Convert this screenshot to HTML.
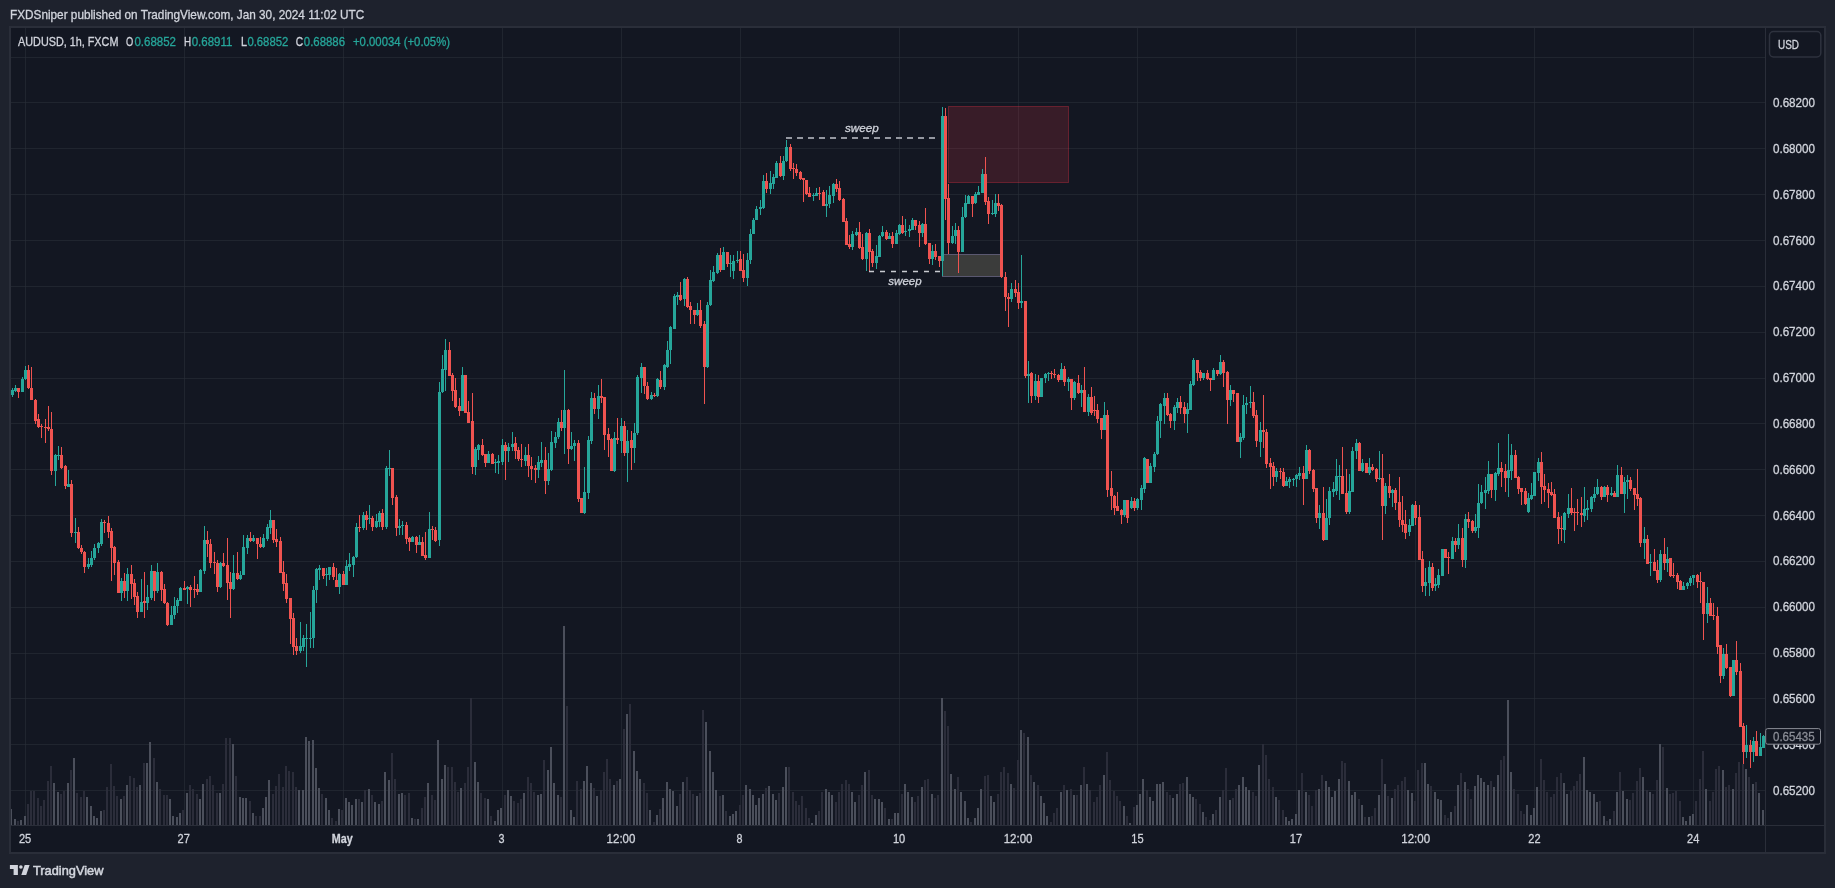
<!DOCTYPE html>
<html><head><meta charset="utf-8"><title>AUDUSD 1h chart</title><style>
html,body{margin:0;padding:0;background:#1e222d;width:1835px;height:888px;overflow:hidden}
svg{position:absolute;left:0;top:0;will-change:transform}
text{font-family:"Liberation Sans",sans-serif}
</style></head><body>
<svg width="1835" height="888" viewBox="0 0 1835 888">
<rect x="0" y="0" width="1835" height="888" fill="#1e222d"/>
<rect x="9" y="26" width="1817" height="828" fill="#2a2e39"/><rect x="11" y="28" width="1813" height="824" fill="#131722"/>
<path d="M11 57.5H1765M11 102.5H1765M11 148.5H1765M11 194.5H1765M11 240.5H1765M11 286.5H1765M11 332.5H1765M11 378.5H1765M11 423.5H1765M11 469.5H1765M11 515.5H1765M11 561.5H1765M11 607.5H1765M11 653.5H1765M11 698.5H1765M11 744.5H1765M11 790.5H1765M25.5 28V825M184.5 28V825M343.5 28V825M502.5 28V825M621.5 28V825M740.5 28V825M899.5 28V825M1018.5 28V825M1137.5 28V825M1296.5 28V825M1415.5 28V825M1534.5 28V825M1693.5 28V825" stroke="rgba(42,46,57,0.6)" stroke-width="1" fill="none"/>
<rect x="948.5" y="106.5" width="120" height="76" fill="rgba(242,54,69,0.17)" stroke="rgba(242,54,69,0.32)" stroke-width="1"/>
<rect x="942" y="254" width="58" height="23" fill="#3b3c3b"/>
<path d="M942 254.5H1000M942 276.5H1000" stroke="#5a5870" stroke-width="1"/>
<path d="M11 809H12V825H11zM14 819H16V825H14zM20 820H22V825H20zM24 816H26V825H24zM53 783H55V825H53zM57 792H59V825H57zM67 783H69V825H67zM73 758H75V825H73zM86 797H88V825H86zM90 806H92V825H90zM93 816H95V825H93zM96 818H98V825H96zM100 811H102V825H100zM120 799H122V825H120zM126 785H128V825H126zM139 785H141V825H139zM146 763H148V825H146zM149 742H151V825H149zM156 782H158V825H156zM169 799H171V825H169zM172 816H174V825H172zM176 817H178V825H176zM179 813H181V825H179zM186 793H188V825H186zM199 799H201V825H199zM202 784H204V825H202zM219 793H221V825H219zM232 744H234V825H232zM239 797H241V825H239zM242 798H244V825H242zM245 798H247V825H245zM252 813H254V825H252zM262 808H264V825H262zM265 797H267V825H265zM268 780H270V825H268zM298 790H300V825H298zM302 790H304V825H302zM305 737H307V825H305zM308 741H310V825H308zM312 740H314V825H312zM315 768H317V825H315zM318 788H320V825H318zM325 798H327V825H325zM328 810H330V825H328zM338 809H340V825H338zM345 798H347V825H345zM348 802H350V825H348zM351 805H353V825H351zM355 799H357V825H355zM361 802H363V825H361zM368 789H370V825H368zM374 802H376V825H374zM378 804H380V825H378zM384 772H386V825H384zM388 780H390V825H388zM398 794H400V825H398zM401 793H403V825H401zM411 818H413V825H411zM417 819H419V825H417zM427 783H429V825H427zM437 740H439V825H437zM441 779H443V825H441zM444 765H446V825H444zM460 788H462V825H460zM474 762H476V825H474zM477 782H479V825H477zM487 799H489V825H487zM494 821H496V825H494zM497 810H499V825H497zM500 808H502V825H500zM507 790H509V825H507zM510 796H512V825H510zM523 793H525V825H523zM537 795H539V825H537zM540 794H542V825H540zM547 770H549V825H547zM550 747H552V825H550zM553 783H555V825H553zM557 795H559V825H557zM563 626H565V825H563zM570 810H572V825H570zM573 817H575V825H573zM583 781H585V825H583zM586 766H588V825H586zM590 783H592V825H590zM596 796H598V825H596zM613 785H615V825H613zM619 779H621V825H619zM626 714H628V825H626zM633 751H635V825H633zM636 771H638V825H636zM639 779H641V825H639zM649 810H651V825H649zM656 815H658V825H656zM662 798H664V825H662zM666 782H668V825H666zM669 789H671V825H669zM672 791H674V825H672zM676 806H678V825H676zM682 782H684V825H682zM696 796H698V825H696zM705 722H707V825H705zM709 751H711V825H709zM712 772H714V825H712zM715 790H717V825H715zM722 795H724V825H722zM729 816H731V825H729zM732 814H734V825H732zM735 811H737V825H735zM745 785H747V825H745zM749 789H751V825H749zM752 795H754V825H752zM755 805H757V825H755zM758 798H760V825H758zM762 794H764V825H762zM768 786H770V825H768zM772 794H774V825H772zM775 800H777V825H775zM782 787H784V825H782zM785 767H787V825H785zM811 823H813V825H811zM815 815H817V825H815zM825 789H827V825H825zM828 792H830V825H828zM831 795H833V825H831zM851 792H853V825H851zM854 802H856V825H854zM864 772H866V825H864zM874 799H876V825H874zM878 799H880V825H878zM881 802H883V825H881zM888 819H890V825H888zM894 813H896V825H894zM897 813H899V825H897zM904 784H906V825H904zM907 792H909V825H907zM911 797H913V825H911zM921 787H923V825H921zM931 794H933V825H931zM941 698H943V825H941zM950 774H952V825H950zM954 789H956V825H954zM960 792H962V825H960zM964 801H966V825H964zM967 818H969V825H967zM974 818H976V825H974zM977 808H979V825H977zM980 789H982V825H980zM990 796H992V825H990zM993 802H995V825H993zM1010 784H1012V825H1010zM1020 730H1022V825H1020zM1027 737H1029V825H1027zM1033 782H1035V825H1033zM1040 796H1042V825H1040zM1043 803H1045V825H1043zM1046 816H1048V825H1046zM1060 792H1062V825H1060zM1066 790H1068V825H1066zM1073 795H1075V825H1073zM1080 785H1082V825H1080zM1086 784H1088V825H1086zM1103 775H1105V825H1103zM1123 806H1125V825H1123zM1129 823H1131V825H1129zM1136 805H1138V825H1136zM1139 794H1141V825H1139zM1142 779H1144V825H1142zM1149 797H1151V825H1149zM1152 801H1154V825H1152zM1156 784H1158V825H1156zM1159 784H1161V825H1159zM1162 782H1164V825H1162zM1172 798H1174V825H1172zM1176 794H1178V825H1176zM1186 777H1188V825H1186zM1189 794H1191V825H1189zM1192 797H1194V825H1192zM1202 812H1204V825H1202zM1212 814H1214V825H1212zM1219 797H1221V825H1219zM1229 800H1231V825H1229zM1238 785H1240V825H1238zM1242 777H1244V825H1242zM1245 787H1247V825H1245zM1248 790H1250V825H1248zM1258 765H1260V825H1258zM1275 797H1277V825H1275zM1285 817H1287V825H1285zM1288 821H1290V825H1288zM1291 819H1293V825H1291zM1295 814H1297V825H1295zM1298 790H1300V825H1298zM1305 792H1307V825H1305zM1318 789H1320V825H1318zM1325 781H1327V825H1325zM1328 787H1330V825H1328zM1331 797H1333V825H1331zM1334 791H1336V825H1334zM1338 779H1340V825H1338zM1348 781H1350V825H1348zM1351 795H1353V825H1351zM1354 792H1356V825H1354zM1361 805H1363V825H1361zM1368 817H1370V825H1368zM1378 795H1380V825H1378zM1384 784H1386V825H1384zM1391 798H1393V825H1391zM1407 790H1409V825H1407zM1411 793H1413V825H1411zM1424 763H1426V825H1424zM1427 784H1429V825H1427zM1434 792H1436V825H1434zM1437 799H1439V825H1437zM1440 800H1442V825H1440zM1450 812H1452V825H1450zM1457 785H1459V825H1457zM1464 782H1466V825H1464zM1474 786H1476V825H1474zM1477 775H1479V825H1477zM1480 778H1482V825H1480zM1483 782H1485V825H1483zM1487 785H1489V825H1487zM1493 787H1495V825H1493zM1497 775H1499V825H1497zM1507 700H1509V825H1507zM1510 772H1512V825H1510zM1526 805H1528V825H1526zM1530 815H1532V825H1530zM1533 808H1535V825H1533zM1536 787H1538V825H1536zM1563 783H1565V825H1563zM1566 794H1568V825H1566zM1583 757H1585V825H1583zM1586 790H1588V825H1586zM1589 792H1591V825H1589zM1593 794H1595V825H1593zM1596 802H1598V825H1596zM1603 816H1605V825H1603zM1609 819H1611V825H1609zM1616 792H1618V825H1616zM1622 791H1624V825H1622zM1626 799H1628V825H1626zM1642 777H1644V825H1642zM1649 792H1651V825H1649zM1659 744H1661V825H1659zM1666 788H1668V825H1666zM1682 817H1684V825H1682zM1685 821H1687V825H1685zM1689 816H1691V825H1689zM1692 814H1694V825H1692zM1705 789H1707V825H1705zM1722 770H1724V825H1722zM1732 789H1734V825H1732zM1745 769H1747V825H1745zM1752 784H1754V825H1752zM1758 793H1760V825H1758zM1762 810H1764V825H1762z" fill="#4b4f5b" shape-rendering="crispEdges"/>
<path d="M17 821H19V825H17zM27 804H29V825H27zM30 791H32V825H30zM33 791H35V825H33zM37 798H39V825H37zM40 806H42V825H40zM43 800H45V825H43zM47 781H49V825H47zM50 766H52V825H50zM60 794H62V825H60zM63 791H65V825H63zM70 770H72V825H70zM76 793H78V825H76zM80 797H82V825H80zM83 791H85V825H83zM103 810H105V825H103zM106 787H108V825H106zM110 764H112V825H110zM113 786H115V825H113zM116 796H118V825H116zM123 796H125V825H123zM129 776H131V825H129zM133 778H135V825H133zM136 787H138V825H136zM143 763H145V825H143zM153 758H155V825H153zM159 789H161V825H159zM163 795H165V825H163zM166 795H168V825H166zM182 810H184V825H182zM189 785H191V825H189zM192 789H194V825H192zM196 794H198V825H196zM206 779H208V825H206zM209 776H211V825H209zM212 785H214V825H212zM216 793H218V825H216zM222 784H224V825H222zM225 738H227V825H225zM229 738H231V825H229zM235 776H237V825H235zM249 801H251V825H249zM255 816H257V825H255zM259 816H261V825H259zM272 794H274V825H272zM275 786H277V825H275zM278 774H280V825H278zM282 787H284V825H282zM285 766H287V825H285zM288 771H290V825H288zM292 772H294V825H292zM295 787H297V825H295zM321 794H323V825H321zM331 818H333V825H331zM335 821H337V825H335zM341 810H343V825H341zM358 799H360V825H358zM364 790H366V825H364zM371 795H373V825H371zM381 801H383V825H381zM391 753H393V825H391zM394 779H396V825H394zM404 795H406V825H404zM408 793H410V825H408zM414 819H416V825H414zM421 808H423V825H421zM424 797H426V825H424zM431 795H433V825H431zM434 800H436V825H434zM447 767H449V825H447zM451 767H453V825H451zM454 782H456V825H454zM457 792H459V825H457zM464 783H466V825H464zM467 767H469V825H467zM470 698H472V825H470zM480 793H482V825H480zM484 798H486V825H484zM490 816H492V825H490zM504 795H506V825H504zM513 801H515V825H513zM517 803H519V825H517zM520 799H522V825H520zM527 777H529V825H527zM530 783H532V825H530zM533 792H535V825H533zM543 760H545V825H543zM560 797H562V825H560zM566 706H568V825H566zM576 781H578V825H576zM580 789H582V825H580zM593 788H595V825H593zM600 790H602V825H600zM603 772H605V825H603zM606 759H608V825H606zM609 779H611V825H609zM616 781H618V825H616zM623 729H625V825H623zM629 704H631V825H629zM643 783H645V825H643zM646 793H648V825H646zM653 822H655V825H653zM659 809H661V825H659zM679 794H681V825H679zM686 777H688V825H686zM689 790H691V825H689zM692 794H694V825H692zM699 793H701V825H699zM702 710H704V825H702zM719 796H721V825H719zM725 811H727V825H725zM739 805H741V825H739zM742 795H744V825H742zM765 788H767V825H765zM778 793H780V825H778zM788 767H790V825H788zM792 792H794V825H792zM795 801H797V825H795zM798 805H800V825H798zM801 796H803V825H801zM805 808H807V825H805zM808 818H810V825H808zM818 811H820V825H818zM821 792H823V825H821zM835 802H837V825H835zM838 792H840V825H838zM841 784H843V825H841zM845 780H847V825H845zM848 784H850V825H848zM858 795H860V825H858zM861 785H863V825H861zM868 770H870V825H868zM871 795H873V825H871zM884 808H886V825H884zM891 819H893V825H891zM901 794H903V825H901zM914 802H916V825H914zM917 796H919V825H917zM924 780H926V825H924zM927 779H929V825H927zM934 798H936V825H934zM937 795H939V825H937zM944 711H946V825H944zM947 726H949V825H947zM957 777H959V825H957zM970 822H972V825H970zM984 776H986V825H984zM987 775H989V825H987zM997 794H999V825H997zM1000 772H1002V825H1000zM1003 767H1005V825H1003zM1007 773H1009V825H1007zM1013 788H1015V825H1013zM1017 760H1019V825H1017zM1023 733H1025V825H1023zM1030 775H1032V825H1030zM1037 785H1039V825H1037zM1050 822H1052V825H1050zM1053 813H1055V825H1053zM1056 808H1058V825H1056zM1063 785H1065V825H1063zM1070 789H1072V825H1070zM1076 795H1078V825H1076zM1083 767H1085V825H1083zM1089 790H1091V825H1089zM1093 802H1095V825H1093zM1096 797H1098V825H1096zM1099 785H1101V825H1099zM1106 752H1108V825H1106zM1109 780H1111V825H1109zM1113 791H1115V825H1113zM1116 796H1118V825H1116zM1119 801H1121V825H1119zM1126 816H1128V825H1126zM1133 807H1135V825H1133zM1146 790H1148V825H1146zM1166 792H1168V825H1166zM1169 795H1171V825H1169zM1179 784H1181V825H1179zM1182 783H1184V825H1182zM1195 799H1197V825H1195zM1199 804H1201V825H1199zM1205 817H1207V825H1205zM1209 820H1211V825H1209zM1215 810H1217V825H1215zM1222 790H1224V825H1222zM1225 768H1227V825H1225zM1232 798H1234V825H1232zM1235 789H1237V825H1235zM1252 792H1254V825H1252zM1255 796H1257V825H1255zM1262 744H1264V825H1262zM1265 755H1267V825H1265zM1268 779H1270V825H1268zM1272 787H1274V825H1272zM1278 800H1280V825H1278zM1282 810H1284V825H1282zM1301 773H1303V825H1301zM1308 795H1310V825H1308zM1311 806H1313V825H1311zM1315 790H1317V825H1315zM1321 775H1323V825H1321zM1341 761H1343V825H1341zM1344 763H1346V825H1344zM1358 799H1360V825H1358zM1364 817H1366V825H1364zM1371 816H1373V825H1371zM1374 808H1376V825H1374zM1381 759H1383V825H1381zM1387 796H1389V825H1387zM1394 789H1396V825H1394zM1397 785H1399V825H1397zM1401 781H1403V825H1401zM1404 777H1406V825H1404zM1414 801H1416V825H1414zM1417 770H1419V825H1417zM1421 763H1423V825H1421zM1430 786H1432V825H1430zM1444 815H1446V825H1444zM1447 818H1449V825H1447zM1454 806H1456V825H1454zM1460 773H1462V825H1460zM1467 789H1469V825H1467zM1470 799H1472V825H1470zM1490 781H1492V825H1490zM1500 760H1502V825H1500zM1503 756H1505V825H1503zM1513 789H1515V825H1513zM1517 794H1519V825H1517zM1520 811H1522V825H1520zM1523 814H1525V825H1523zM1540 759H1542V825H1540zM1543 780H1545V825H1543zM1546 792H1548V825H1546zM1550 797H1552V825H1550zM1553 794H1555V825H1553zM1556 777H1558V825H1556zM1560 773H1562V825H1560zM1570 791H1572V825H1570zM1573 786H1575V825H1573zM1576 781H1578V825H1576zM1579 774H1581V825H1579zM1599 801H1601V825H1599zM1606 821H1608V825H1606zM1613 811H1615V825H1613zM1619 772H1621V825H1619zM1629 800H1631V825H1629zM1632 793H1634V825H1632zM1636 781H1638V825H1636zM1639 768H1641V825H1639zM1646 790H1648V825H1646zM1652 794H1654V825H1652zM1656 780H1658V825H1656zM1662 747H1664V825H1662zM1669 794H1671V825H1669zM1672 793H1674V825H1672zM1675 791H1677V825H1675zM1679 801H1681V825H1679zM1695 801H1697V825H1695zM1699 779H1701V825H1699zM1702 751H1704V825H1702zM1709 801H1711V825H1709zM1712 792H1714V825H1712zM1715 769H1717V825H1715zM1718 766H1720V825H1718zM1725 787H1727V825H1725zM1728 785H1730V825H1728zM1735 773H1737V825H1735zM1738 762H1740V825H1738zM1742 764H1744V825H1742zM1748 777H1750V825H1748zM1755 782H1757V825H1755z" fill="#2b2d3a" shape-rendering="crispEdges"/>
<path d="M12 388h1v2h-1zM12 395h1v2h-1zM11 390H14V395H11zM15 385h1v3h-1zM15 391h1v1h-1zM14 388H17V391H14zM22 377h1v2h-1zM21 379H24V392H21zM25 366h1v4h-1zM25 379h1v1h-1zM24 370H27V379H24zM55 454h1v1h-1zM55 471h1v15h-1zM54 455H57V471H54zM58 446h1v9h-1zM58 456h1v4h-1zM57 455H60V456H57zM68 470h1v14h-1zM67 484H70V487H67zM75 518h1v14h-1zM75 533h1v10h-1zM74 532H77V533H74zM88 558h1v6h-1zM88 567h1v2h-1zM87 564H90V567H87zM91 551h1v7h-1zM91 565h1v2h-1zM90 558H93V565H90zM94 544h1v4h-1zM94 558h1v2h-1zM93 548H96V558H93zM98 542h1v1h-1zM98 548h1v5h-1zM97 543H100V548H97zM101 519h1v3h-1zM101 544h1v2h-1zM100 522H103V544H100zM121 578h1v3h-1zM121 593h1v8h-1zM120 581H123V593H120zM127 568h1v6h-1zM127 591h1v10h-1zM126 574H129V591H126zM141 579h1v23h-1zM140 602H143V612H140zM147 585h1v12h-1zM147 603h1v7h-1zM146 597H149V603H146zM151 565h1v6h-1zM151 598h1v2h-1zM150 571H153V598H150zM157 563h1v9h-1zM157 591h1v2h-1zM156 572H159V591H156zM171 606h1v9h-1zM170 615H173V625H170zM174 597h1v9h-1zM174 615h1v4h-1zM173 606H176V615H173zM177 598h1v2h-1zM177 606h1v7h-1zM176 600H179V606H176zM180 587h1v1h-1zM179 588H182V601H179zM187 586h1v1h-1zM187 589h1v15h-1zM186 587H189V589H186zM200 569h1v1h-1zM199 570H202V592H199zM204 526h1v14h-1zM204 571h1v3h-1zM203 540H206V571H203zM220 562h1v1h-1zM220 587h1v1h-1zM219 563H222V587H219zM233 555h1v18h-1zM233 589h1v1h-1zM232 573H235V589H232zM240 571h1v4h-1zM240 579h1v1h-1zM239 575H242V579H239zM243 535h1v12h-1zM242 547H245V575H242zM247 535h1v3h-1zM247 548h1v6h-1zM246 538H249V548H246zM253 535h1v3h-1zM253 541h1v1h-1zM252 538H255V541H252zM263 534h1v4h-1zM263 547h1v1h-1zM262 538H265V547H262zM267 524h1v3h-1zM267 539h1v2h-1zM266 527H269V539H266zM270 510h1v10h-1zM270 528h1v6h-1zM269 520H272V528H269zM300 622h1v24h-1zM300 651h1v2h-1zM299 646H302V651H299zM303 635h1v3h-1zM303 647h1v4h-1zM302 638H305V647H302zM306 624h1v14h-1zM306 639h1v28h-1zM305 638H308V639H305zM310 612h1v26h-1zM310 639h1v9h-1zM309 638H312V639H309zM313 586h1v4h-1zM313 638h1v10h-1zM312 590H315V638H312zM316 568h1v1h-1zM316 590h1v13h-1zM315 569H318V590H315zM319 565h1v3h-1zM319 570h1v10h-1zM318 568H321V570H318zM326 568h1v6h-1zM326 575h1v11h-1zM325 574H328V575H325zM329 575h1v5h-1zM328 567H331V575H328zM339 573h1v1h-1zM339 587h1v7h-1zM338 574H341V587H338zM346 560h1v6h-1zM345 566H348V585H345zM349 553h1v11h-1zM349 567h1v4h-1zM348 564H351V567H348zM353 556h1v1h-1zM353 565h1v12h-1zM352 557H355V565H352zM356 523h1v4h-1zM356 557h1v1h-1zM355 527H358V557H355zM363 512h1v3h-1zM363 528h1v2h-1zM362 515H365V528H362zM369 505h1v13h-1zM369 519h1v5h-1zM368 518H371V519H368zM376 514h1v7h-1zM376 527h1v1h-1zM375 521H378V527H375zM379 511h1v2h-1zM379 522h1v5h-1zM378 513H381V522H378zM386 466h1v2h-1zM386 527h1v2h-1zM385 468H388V527H385zM389 450h1v18h-1zM389 469h1v7h-1zM388 468H391V469H388zM399 519h1v7h-1zM399 528h1v7h-1zM398 526H401V528H398zM402 521h1v4h-1zM402 526h1v9h-1zM401 525H404V526H401zM412 536h1v1h-1zM411 537H414V542H411zM419 535h1v7h-1zM418 542H421V545H418zM429 512h1v17h-1zM428 529H431V558H428zM439 382h1v10h-1zM439 540h1v6h-1zM438 392H441V540H438zM442 355h1v14h-1zM442 392h1v1h-1zM441 369H444V392H441zM445 339h1v11h-1zM445 370h1v21h-1zM444 350H447V370H444zM462 367h1v8h-1zM461 375H464V411H461zM475 447h1v2h-1zM475 467h1v8h-1zM474 449H477V467H474zM478 444h1v1h-1zM478 450h1v10h-1zM477 445H480V450H477zM488 451h1v3h-1zM487 454H490V463H487zM495 459h1v3h-1zM495 463h1v10h-1zM494 462H497V463H494zM498 455h1v6h-1zM498 463h1v11h-1zM497 461H500V463H497zM502 439h1v6h-1zM502 462h1v3h-1zM501 445H504V462H501zM508 443h1v4h-1zM508 451h1v11h-1zM507 447H510V451H507zM512 432h1v12h-1zM512 447h1v4h-1zM511 444H514V447H511zM525 447h1v8h-1zM525 461h1v5h-1zM524 455H527V461H524zM538 456h1v6h-1zM538 470h1v8h-1zM537 462H540V470H537zM541 442h1v18h-1zM541 463h1v4h-1zM540 460H543V463H540zM548 453h1v16h-1zM548 481h1v4h-1zM547 469H550V481H547zM551 431h1v11h-1zM551 470h1v1h-1zM550 442H553V470H550zM555 432h1v5h-1zM555 443h1v5h-1zM554 437H557V443H554zM558 418h1v4h-1zM558 437h1v2h-1zM557 422H560V437H557zM564 370h1v40h-1zM564 428h1v26h-1zM563 410H566V428H563zM571 432h1v14h-1zM571 449h1v1h-1zM570 446H573V449H570zM574 440h1v3h-1zM574 446h1v15h-1zM573 443H576V446H573zM584 467h1v25h-1zM584 513h1v1h-1zM583 492H586V513H583zM588 436h1v4h-1zM588 493h1v6h-1zM587 440H590V493H587zM591 392h1v6h-1zM591 441h1v3h-1zM590 398H593V441H590zM598 385h1v11h-1zM598 409h1v10h-1zM597 396H600V409H597zM614 432h1v6h-1zM614 471h1v1h-1zM613 438H616V471H613zM621 418h1v8h-1zM621 441h1v12h-1zM620 426H623V441H620zM627 430h1v11h-1zM627 453h1v29h-1zM626 441H629V453H626zM634 423h1v10h-1zM634 448h1v15h-1zM633 433H636V448H633zM637 375h1v2h-1zM637 433h1v2h-1zM636 377H639V433H636zM641 363h1v4h-1zM641 378h1v15h-1zM640 367H643V378H640zM651 392h1v3h-1zM651 399h1v1h-1zM650 395H653V399H650zM657 378h1v1h-1zM657 396h1v1h-1zM656 379H659V396H656zM664 364h1v1h-1zM664 387h1v3h-1zM663 365H666V387H663zM667 341h1v9h-1zM667 367h1v1h-1zM666 350H669V367H666zM670 326h1v1h-1zM670 350h1v14h-1zM669 327H672V350H669zM674 294h1v2h-1zM673 296H676V329H673zM677 292h1v3h-1zM677 297h1v8h-1zM676 295H679V297H676zM684 278h1v1h-1zM684 299h1v7h-1zM683 279H686V299H683zM697 303h1v7h-1zM697 315h1v1h-1zM696 310H699V315H696zM707 302h1v3h-1zM707 367h1v1h-1zM706 305H709V367H706zM710 270h1v10h-1zM710 305h1v1h-1zM709 280H712V305H709zM713 266h1v6h-1zM713 281h1v1h-1zM712 272H715V281H712zM717 253h1v2h-1zM717 273h1v1h-1zM716 255H719V273H716zM723 247h1v5h-1zM722 252H725V270H722zM730 255h1v8h-1zM730 264h1v13h-1zM729 263H732V264H729zM733 255h1v6h-1zM733 271h1v8h-1zM732 261H735V271H732zM737 251h1v9h-1zM737 261h1v2h-1zM736 260H739V261H736zM747 253h1v7h-1zM747 278h1v8h-1zM746 260H749V278H746zM750 229h1v5h-1zM750 260h1v4h-1zM749 234H752V260H749zM753 218h1v2h-1zM752 220H755V234H752zM756 206h1v3h-1zM755 209H758V220H755zM760 200h1v7h-1zM760 209h1v6h-1zM759 207H762V209H759zM763 175h1v6h-1zM763 208h1v1h-1zM762 181H765V208H762zM770 171h1v12h-1zM770 189h1v5h-1zM769 183H772V189H769zM773 174h1v3h-1zM773 184h1v5h-1zM772 177H775V184H772zM776 161h1v2h-1zM775 163H778V178H775zM783 156h1v5h-1zM783 176h1v4h-1zM782 161H785V176H782zM786 140h1v7h-1zM786 161h1v1h-1zM785 147H788V161H785zM813 193h1v2h-1zM813 196h1v5h-1zM812 195H815V196H812zM816 188h1v5h-1zM815 193H818V196H815zM826 190h1v14h-1zM826 206h1v11h-1zM825 204H828V206H825zM829 186h1v9h-1zM829 204h1v4h-1zM828 195H831V204H828zM833 183h1v1h-1zM833 196h1v7h-1zM832 184H835V196H832zM852 231h1v3h-1zM852 247h1v3h-1zM851 234H854V247H851zM856 228h1v4h-1zM856 235h1v1h-1zM855 232H858V235H855zM866 232h1v1h-1zM866 259h1v12h-1zM865 233H868V259H865zM876 245h1v11h-1zM876 263h1v6h-1zM875 256H878V263H875zM879 235h1v1h-1zM878 236H881V257H878zM882 226h1v6h-1zM882 236h1v1h-1zM881 232H884V236H881zM889 233h1v3h-1zM888 236H891V239H888zM896 230h1v3h-1zM895 233H898V244H895zM899 224h1v1h-1zM899 234h1v1h-1zM898 225H901V234H898zM905 219h1v12h-1zM905 232h1v4h-1zM904 231H907V232H904zM909 225h1v4h-1zM909 231h1v6h-1zM908 229H911V231H908zM912 218h1v2h-1zM911 220H914V230H911zM922 223h1v1h-1zM922 233h1v4h-1zM921 224H924V233H921zM932 245h1v6h-1zM932 259h1v6h-1zM931 251H934V259H931zM942 107h1v9h-1zM942 261h1v15h-1zM941 116H944V261H941zM952 226h1v10h-1zM952 243h1v1h-1zM951 236H954V243H951zM955 223h1v7h-1zM955 236h1v8h-1zM954 230H957V236H954zM962 207h1v10h-1zM961 217H964V252H961zM965 195h1v8h-1zM965 217h1v1h-1zM964 203H967V217H964zM968 195h1v1h-1zM967 196H970V204H967zM975 192h1v2h-1zM975 203h1v1h-1zM974 194H977V203H974zM978 186h1v6h-1zM977 192H980V195H977zM982 169h1v5h-1zM981 174H984V193H981zM992 200h1v13h-1zM992 214h1v1h-1zM991 213H994V214H991zM995 194h1v9h-1zM995 214h1v3h-1zM994 203H997V214H994zM1011 283h1v6h-1zM1011 299h1v3h-1zM1010 289H1013V299H1010zM1021 255h1v46h-1zM1021 303h1v5h-1zM1020 301H1023V303H1020zM1028 361h1v13h-1zM1028 376h1v27h-1zM1027 374H1030V376H1027zM1035 374h1v7h-1zM1035 396h1v4h-1zM1034 381H1037V396H1034zM1040 378H1043V397H1040zM1045 373h1v1h-1zM1045 378h1v5h-1zM1044 374H1047V378H1044zM1048 372h1v1h-1zM1048 374h1v7h-1zM1047 373H1050V374H1047zM1061 363h1v6h-1zM1060 369H1063V380H1060zM1068 377h1v2h-1zM1068 382h1v9h-1zM1067 379H1070V382H1067zM1074 381h1v1h-1zM1074 398h1v2h-1zM1073 382H1076V398H1073zM1081 385h1v5h-1zM1081 393h1v14h-1zM1080 390H1083V393H1080zM1088 394h1v3h-1zM1088 412h1v4h-1zM1087 397H1090V412H1087zM1104 402h1v13h-1zM1103 415H1106V430H1103zM1124 515h1v2h-1zM1123 500H1126V515H1123zM1131 497h1v4h-1zM1131 508h1v1h-1zM1130 501H1133V508H1130zM1137 498h1v1h-1zM1137 508h1v2h-1zM1136 499H1139V508H1136zM1141 485h1v3h-1zM1141 500h1v10h-1zM1140 488H1143V500H1140zM1144 457h1v1h-1zM1144 489h1v4h-1zM1143 458H1146V489H1143zM1150 463h1v3h-1zM1149 466H1152V483H1149zM1154 452h1v2h-1zM1154 467h1v5h-1zM1153 454H1156V467H1153zM1157 416h1v5h-1zM1157 454h1v1h-1zM1156 421H1159V454H1156zM1160 403h1v1h-1zM1160 421h1v17h-1zM1159 404H1162V421H1159zM1164 393h1v5h-1zM1164 406h1v18h-1zM1163 398H1166V406H1163zM1174 405h1v2h-1zM1174 421h1v9h-1zM1173 407H1176V421H1173zM1177 398h1v4h-1zM1177 408h1v5h-1zM1176 402H1179V408H1176zM1187 403h1v6h-1zM1187 414h1v19h-1zM1186 409H1189V414H1186zM1190 381h1v3h-1zM1189 384H1192V410H1189zM1193 358h1v2h-1zM1193 385h1v1h-1zM1192 360H1195V385H1192zM1203 378h1v2h-1zM1202 373H1205V378H1202zM1213 368h1v2h-1zM1212 370H1215V380H1212zM1220 355h1v7h-1zM1220 374h1v1h-1zM1219 362H1222V374H1219zM1230 385h1v5h-1zM1230 400h1v6h-1zM1229 390H1232V400H1229zM1240 433h1v4h-1zM1240 442h1v16h-1zM1239 437H1242V442H1239zM1243 395h1v10h-1zM1243 438h1v2h-1zM1242 405H1245V438H1242zM1246 397h1v6h-1zM1246 405h1v9h-1zM1245 403H1248V405H1245zM1250 386h1v16h-1zM1250 403h1v5h-1zM1249 402H1252V403H1249zM1260 422h1v8h-1zM1260 442h1v15h-1zM1259 430H1262V442H1259zM1276 468h1v3h-1zM1276 477h1v5h-1zM1275 471H1278V477H1275zM1286 477h1v4h-1zM1285 481H1288V486H1285zM1289 477h1v2h-1zM1289 482h1v6h-1zM1288 479H1291V482H1288zM1293 478h1v1h-1zM1293 480h1v6h-1zM1292 479H1295V480H1292zM1296 474h1v1h-1zM1296 479h1v8h-1zM1295 475H1298V479H1295zM1299 467h1v6h-1zM1299 476h1v4h-1zM1298 473H1301V476H1298zM1306 445h1v5h-1zM1305 450H1308V479H1305zM1319 505h1v8h-1zM1319 518h1v11h-1zM1318 513H1321V518H1318zM1326 499h1v19h-1zM1325 518H1328V540H1325zM1329 487h1v4h-1zM1329 518h1v7h-1zM1328 491H1331V518H1328zM1333 482h1v7h-1zM1333 492h1v5h-1zM1332 489H1335V492H1332zM1336 459h1v17h-1zM1336 491h1v4h-1zM1335 476H1338V491H1335zM1339 465h1v11h-1zM1339 477h1v23h-1zM1338 476H1341V477H1338zM1349 474h1v17h-1zM1349 512h1v2h-1zM1348 491H1351V512H1348zM1352 447h1v4h-1zM1351 451H1354V492H1351zM1356 439h1v4h-1zM1356 451h1v8h-1zM1355 443H1358V451H1355zM1362 459h1v4h-1zM1362 471h1v1h-1zM1361 463H1364V471H1361zM1369 458h1v9h-1zM1369 473h1v2h-1zM1368 467H1371V473H1368zM1379 451h1v27h-1zM1379 479h1v1h-1zM1378 478H1381V479H1378zM1385 483h1v3h-1zM1385 506h1v8h-1zM1384 486H1387V506H1384zM1392 489h1v1h-1zM1392 493h1v14h-1zM1391 490H1394V493H1391zM1409 519h1v6h-1zM1409 532h1v4h-1zM1408 525H1411V532H1408zM1412 504h1v1h-1zM1411 505H1414V526H1411zM1425 568h1v14h-1zM1425 586h1v10h-1zM1424 582H1427V586H1424zM1429 561h1v6h-1zM1429 583h1v13h-1zM1428 567H1431V583H1428zM1435 578h1v6h-1zM1435 586h1v5h-1zM1434 584H1437V586H1434zM1438 569h1v6h-1zM1438 585h1v3h-1zM1437 575H1440V585H1437zM1441 549H1444V576H1441zM1452 537h1v4h-1zM1451 541H1454V559H1451zM1458 524h1v14h-1zM1458 545h1v4h-1zM1457 538H1460V545H1457zM1465 514h1v5h-1zM1465 560h1v8h-1zM1464 519H1467V560H1464zM1475 514h1v13h-1zM1475 531h1v2h-1zM1474 527H1477V531H1474zM1478 484h1v19h-1zM1478 528h1v10h-1zM1477 503H1480V528H1477zM1481 485h1v7h-1zM1481 503h1v1h-1zM1480 492H1483V503H1480zM1485 477h1v13h-1zM1485 493h1v16h-1zM1484 490H1487V493H1484zM1488 461h1v13h-1zM1488 491h1v3h-1zM1487 474H1490V491H1487zM1495 472h1v1h-1zM1495 490h1v11h-1zM1494 473H1497V490H1494zM1498 443h1v25h-1zM1498 474h1v2h-1zM1497 468H1500V474H1497zM1508 434h1v36h-1zM1508 478h1v19h-1zM1507 470H1510V478H1507zM1511 444h1v11h-1zM1511 471h1v9h-1zM1510 455H1513V471H1510zM1528 493h1v5h-1zM1528 512h1v1h-1zM1527 498H1530V512H1527zM1531 483h1v12h-1zM1531 499h1v1h-1zM1530 495H1533V499H1530zM1533 472H1536V496H1533zM1538 458h1v4h-1zM1538 473h1v8h-1zM1537 462H1540V473H1537zM1564 512h1v1h-1zM1564 530h1v13h-1zM1563 513H1566V530H1563zM1568 494h1v14h-1zM1568 514h1v4h-1zM1567 508H1570V514H1567zM1584 487h1v22h-1zM1584 516h1v6h-1zM1583 509H1586V516H1583zM1587 500h1v8h-1zM1587 510h1v10h-1zM1586 508H1589V510H1586zM1591 496h1v1h-1zM1591 509h1v3h-1zM1590 497H1593V509H1590zM1594 487h1v7h-1zM1594 498h1v4h-1zM1593 494H1596V498H1593zM1597 479h1v8h-1zM1597 494h1v1h-1zM1596 487H1599V494H1596zM1604 486h1v1h-1zM1603 487H1606V497H1603zM1611 487h1v6h-1zM1611 495h1v1h-1zM1610 493H1613V495H1610zM1617 465h1v10h-1zM1616 475H1619V497H1616zM1624 477h1v5h-1zM1624 494h1v19h-1zM1623 482H1626V494H1623zM1627 475h1v5h-1zM1627 482h1v17h-1zM1626 480H1629V482H1626zM1644 527h1v12h-1zM1644 543h1v16h-1zM1643 539H1646V543H1643zM1650 554h1v8h-1zM1650 563h1v13h-1zM1649 562H1652V563H1649zM1660 550h1v4h-1zM1660 580h1v2h-1zM1659 554H1662V580H1659zM1667 547h1v12h-1zM1667 563h1v9h-1zM1666 559H1669V563H1666zM1683 582h1v4h-1zM1682 586H1685V590H1682zM1687 582h1v1h-1zM1687 586h1v3h-1zM1686 583H1689V586H1686zM1690 576h1v2h-1zM1690 583h1v3h-1zM1689 578H1692V583H1689zM1693 578h1v7h-1zM1692 575H1695V578H1692zM1707 587h1v16h-1zM1707 614h1v9h-1zM1706 603H1709V614H1706zM1723 648h1v6h-1zM1723 676h1v3h-1zM1722 654H1725V676H1722zM1732 660H1735V696H1732zM1746 725h1v20h-1zM1746 752h1v6h-1zM1745 745H1748V752H1745zM1753 737h1v4h-1zM1753 752h1v10h-1zM1752 741H1755V752H1752zM1760 733h1v14h-1zM1759 747H1762V756H1759zM1763 735h1v1h-1zM1762 736H1765V748H1762z" fill="#26a69a" shape-rendering="crispEdges"/>
<path d="M18 392h1v6h-1zM17 388H20V392H17zM28 365h1v5h-1zM28 388h1v1h-1zM27 370H30V388H27zM31 367h1v21h-1zM30 388H33V400H30zM35 399h1v1h-1zM35 421h1v3h-1zM34 400H37V421H34zM38 414h1v5h-1zM38 427h1v1h-1zM37 419H40V427H37zM41 424h1v2h-1zM41 427h1v11h-1zM40 426H43V427H40zM45 419h1v8h-1zM45 428h1v15h-1zM44 427H47V428H44zM48 406h1v21h-1zM48 429h1v2h-1zM47 427H50V429H47zM51 412h1v17h-1zM51 471h1v4h-1zM50 429H53V471H50zM61 447h1v8h-1zM61 468h1v1h-1zM60 455H63V468H60zM65 465h1v1h-1zM65 486h1v3h-1zM64 466H67V486H64zM71 480h1v4h-1zM71 533h1v4h-1zM70 484H73V533H70zM78 527h1v5h-1zM78 548h1v1h-1zM77 532H80V548H77zM81 545h1v3h-1zM81 552h1v2h-1zM80 548H83V552H80zM84 551h1v1h-1zM84 567h1v6h-1zM83 552H86V567H83zM104 520h1v2h-1zM104 523h1v10h-1zM103 522H106V523H103zM108 516h1v7h-1zM108 532h1v6h-1zM107 523H110V532H107zM111 528h1v3h-1zM111 548h1v33h-1zM110 531H113V548H110zM114 546h1v1h-1zM114 563h1v12h-1zM113 547H116V563H113zM118 560h1v2h-1zM117 562H120V593H117zM124 573h1v8h-1zM124 591h1v7h-1zM123 581H126V591H123zM131 565h1v9h-1zM131 584h1v15h-1zM130 574H133V584H130zM134 579h1v4h-1zM134 597h1v8h-1zM133 583H136V597H133zM137 592h1v4h-1zM137 612h1v6h-1zM136 596H139V612H136zM144 572h1v29h-1zM144 603h1v15h-1zM143 601H146V603H143zM154 591h1v10h-1zM153 571H156V591H153zM161 571h1v1h-1zM161 590h1v11h-1zM160 572H163V590H160zM164 584h1v5h-1zM164 603h1v1h-1zM163 589H166V603H163zM167 602h1v1h-1zM167 625h1v1h-1zM166 603H169V625H166zM184 581h1v7h-1zM183 588H186V590H183zM190 585h1v2h-1zM190 590h1v17h-1zM189 587H192V590H189zM194 576h1v13h-1zM194 590h1v8h-1zM193 589H196V590H193zM197 584h1v5h-1zM197 592h1v3h-1zM196 589H199V592H196zM207 531h1v9h-1zM207 544h1v13h-1zM206 540H209V544H206zM210 539h1v5h-1zM210 563h1v5h-1zM209 544H212V563H209zM214 552h1v10h-1zM214 563h1v11h-1zM213 562H216V563H213zM217 560h1v3h-1zM217 587h1v5h-1zM216 563H219V587H216zM223 553h1v10h-1zM223 566h1v1h-1zM222 563H225V566H222zM227 538h1v27h-1zM227 583h1v17h-1zM226 565H229V583H226zM230 572h1v10h-1zM230 589h1v29h-1zM229 582H232V589H229zM237 552h1v21h-1zM237 579h1v1h-1zM236 573H239V579H236zM250 532h1v6h-1zM250 541h1v1h-1zM249 538H252V541H249zM257 544h1v15h-1zM256 538H259V544H256zM260 537h1v7h-1zM260 547h1v1h-1zM259 544H262V547H259zM273 540h1v3h-1zM272 520H275V540H272zM276 529h1v10h-1zM276 542h1v5h-1zM275 539H278V542H275zM280 537h1v4h-1zM279 541H282V573H279zM283 561h1v11h-1zM283 584h1v7h-1zM282 572H285V584H282zM286 574h1v9h-1zM286 599h1v4h-1zM285 583H288V599H285zM290 619h1v25h-1zM289 598H292V619H289zM293 613h1v5h-1zM293 647h1v8h-1zM292 618H295V647H292zM296 638h1v8h-1zM296 651h1v4h-1zM295 646H298V651H295zM323 576h1v3h-1zM322 568H325V576H322zM333 563h1v4h-1zM333 577h1v3h-1zM332 567H335V577H332zM336 568h1v12h-1zM335 580H338V587H335zM343 571h1v3h-1zM342 574H345V585H342zM359 515h1v12h-1zM359 528h1v4h-1zM358 527H361V528H358zM366 511h1v4h-1zM366 520h1v10h-1zM365 515H368V520H365zM372 516h1v2h-1zM372 527h1v4h-1zM371 518H374V527H371zM382 509h1v4h-1zM382 527h1v3h-1zM381 513H384V527H381zM392 498h1v7h-1zM391 468H394V498H391zM396 495h1v2h-1zM396 528h1v8h-1zM395 497H398V528H395zM406 522h1v3h-1zM406 539h1v5h-1zM405 525H408V539H405zM409 537h1v1h-1zM409 542h1v9h-1zM408 538H411V542H408zM416 536h1v1h-1zM416 545h1v8h-1zM415 537H418V545H415zM422 537h1v5h-1zM421 542H424V556H421zM425 532h1v23h-1zM425 558h1v2h-1zM424 555H427V558H424zM432 526h1v3h-1zM432 530h1v10h-1zM431 529H434V530H431zM435 527h1v3h-1zM435 541h1v1h-1zM434 530H437V541H434zM449 342h1v8h-1zM448 350H451V376H448zM452 373h1v2h-1zM452 391h1v10h-1zM451 375H454V391H451zM455 378h1v12h-1zM455 407h1v1h-1zM454 390H457V407H454zM459 398h1v8h-1zM459 411h1v5h-1zM458 406H461V411H458zM464 375H467V413H464zM468 401h1v11h-1zM467 412H470V423H467zM472 393h1v28h-1zM472 467h1v7h-1zM471 421H474V467H471zM482 439h1v6h-1zM482 455h1v1h-1zM481 445H484V455H481zM485 463h1v4h-1zM484 454H487V463H484zM492 453h1v1h-1zM491 454H494V464H491zM505 442h1v3h-1zM505 451h1v29h-1zM504 445H507V451H504zM515 437h1v6h-1zM515 451h1v8h-1zM514 443H517V451H514zM518 447h1v3h-1zM518 459h1v2h-1zM517 450H520V459H517zM521 444h1v15h-1zM521 460h1v7h-1zM520 459H523V460H520zM528 444h1v11h-1zM528 466h1v11h-1zM527 455H530V466H527zM531 457h1v9h-1zM531 469h1v11h-1zM530 466H533V469H530zM535 465h1v3h-1zM535 470h1v13h-1zM534 468H537V470H534zM545 447h1v13h-1zM545 481h1v13h-1zM544 460H547V481H544zM561 410h1v12h-1zM561 428h1v3h-1zM560 422H563V428H560zM568 409h1v1h-1zM568 449h1v15h-1zM567 410H570V449H567zM578 440h1v3h-1zM578 499h1v3h-1zM577 443H580V499H577zM580 498H583V513H580zM594 393h1v5h-1zM594 409h1v5h-1zM593 398H596V409H593zM601 379h1v17h-1zM601 398h1v5h-1zM600 396H603V398H600zM604 435h1v15h-1zM603 397H606V435H603zM608 428h1v6h-1zM608 440h1v17h-1zM607 434H610V440H607zM611 438h1v1h-1zM610 439H613V471H610zM617 418h1v20h-1zM617 440h1v4h-1zM616 438H619V440H616zM624 421h1v5h-1zM624 453h1v3h-1zM623 426H626V453H623zM631 431h1v9h-1zM631 448h1v22h-1zM630 440H633V448H630zM644 386h1v8h-1zM643 367H646V386H643zM647 382h1v4h-1zM647 399h1v1h-1zM646 386H649V399H646zM654 393h1v2h-1zM654 396h1v1h-1zM653 395H656V396H653zM660 371h1v9h-1zM660 387h1v2h-1zM659 380H662V387H659zM680 282h1v13h-1zM680 300h1v1h-1zM679 295H682V300H679zM687 277h1v2h-1zM687 307h1v1h-1zM686 279H689V307H686zM690 302h1v4h-1zM690 310h1v14h-1zM689 306H692V310H689zM694 315h1v9h-1zM693 310H696V315H693zM700 300h1v10h-1zM700 326h1v2h-1zM699 310H702V326H699zM704 321h1v3h-1zM704 367h1v37h-1zM703 324H706V367H703zM720 248h1v7h-1zM720 270h1v2h-1zM719 255H722V270H719zM727 264h1v3h-1zM726 252H729V264H726zM740 251h1v8h-1zM739 259H742V271H739zM743 254h1v16h-1zM743 278h1v4h-1zM742 270H745V278H742zM766 173h1v8h-1zM766 189h1v4h-1zM765 181H768V189H765zM780 156h1v7h-1zM780 176h1v1h-1zM779 163H782V176H779zM790 144h1v3h-1zM790 169h1v2h-1zM789 147H792V169H789zM793 163h1v5h-1zM793 169h1v10h-1zM792 168H795V169H792zM796 164h1v5h-1zM796 173h1v3h-1zM795 169H798V173H795zM800 171h1v1h-1zM800 179h1v1h-1zM799 172H802V179H799zM803 180h1v22h-1zM802 178H805V180H802zM806 194h1v1h-1zM805 180H808V194H805zM809 187h1v6h-1zM808 193H811V197H808zM819 187h1v6h-1zM819 194h1v6h-1zM818 193H821V194H818zM823 190h1v2h-1zM822 192H825V206H822zM836 179h1v5h-1zM836 189h1v3h-1zM835 184H838V189H835zM839 181h1v7h-1zM839 200h1v1h-1zM838 188H841V200H838zM843 198h1v1h-1zM842 199H845V222H842zM846 218h1v3h-1zM845 221H848V245H845zM849 235h1v9h-1zM849 247h1v2h-1zM848 244H851V247H848zM859 222h1v10h-1zM859 248h1v1h-1zM858 232H861V248H858zM862 234h1v13h-1zM862 259h1v1h-1zM861 247H864V259H861zM869 229h1v4h-1zM869 252h1v19h-1zM868 233H871V252H868zM872 249h1v2h-1zM872 263h1v4h-1zM871 251H874V263H871zM886 230h1v2h-1zM886 239h1v1h-1zM885 232H888V239H885zM892 232h1v4h-1zM892 244h1v4h-1zM891 236H894V244H891zM902 216h1v9h-1zM902 233h1v1h-1zM901 225H904V233H901zM915 226h1v4h-1zM914 220H917V226H914zM919 221h1v4h-1zM919 233h1v14h-1zM918 225H921V233H918zM925 208h1v16h-1zM925 244h1v1h-1zM924 224H927V244H924zM929 259h1v5h-1zM928 243H931V259H928zM935 244h1v7h-1zM935 257h1v3h-1zM934 251H937V257H934zM939 261h1v6h-1zM938 256H941V261H938zM945 108h1v8h-1zM945 199h1v21h-1zM944 116H947V199H944zM948 184h1v14h-1zM948 243h1v11h-1zM947 198H950V243H947zM958 226h1v4h-1zM958 252h1v21h-1zM957 230H960V252H957zM972 204h1v13h-1zM971 196H974V204H971zM985 157h1v17h-1zM985 202h1v3h-1zM984 174H987V202H984zM988 197h1v4h-1zM988 214h1v10h-1zM987 201H990V214H987zM998 194h1v9h-1zM998 206h1v5h-1zM997 203H1000V206H997zM1001 204h1v1h-1zM1001 277h1v1h-1zM1000 205H1003V277H1000zM1005 272h1v5h-1zM1005 297h1v14h-1zM1004 277H1007V297H1004zM1008 293h1v4h-1zM1008 299h1v28h-1zM1007 297H1010V299H1007zM1015 280h1v9h-1zM1015 293h1v4h-1zM1014 289H1017V293H1014zM1018 283h1v9h-1zM1018 303h1v6h-1zM1017 292H1020V303H1017zM1025 376h1v2h-1zM1024 301H1027V376H1024zM1031 372h1v1h-1zM1031 396h1v7h-1zM1030 373H1033V396H1030zM1038 375h1v6h-1zM1038 397h1v6h-1zM1037 381H1040V397H1037zM1051 371h1v2h-1zM1051 374h1v5h-1zM1050 373H1053V374H1050zM1054 369h1v5h-1zM1054 375h1v3h-1zM1053 374H1056V375H1053zM1058 374h1v1h-1zM1058 380h1v2h-1zM1057 375H1060V380H1057zM1064 366h1v3h-1zM1064 382h1v4h-1zM1063 369H1066V382H1063zM1071 398h1v12h-1zM1070 379H1073V398H1070zM1078 375h1v8h-1zM1078 393h1v1h-1zM1077 383H1080V393H1077zM1084 367h1v23h-1zM1083 390H1086V412H1083zM1091 387h1v10h-1zM1091 413h1v2h-1zM1090 397H1093V413H1090zM1094 396h1v14h-1zM1094 411h1v5h-1zM1093 410H1096V411H1093zM1097 404h1v6h-1zM1097 419h1v4h-1zM1096 410H1099V419H1096zM1101 430h1v9h-1zM1100 418H1103V430H1100zM1107 410h1v5h-1zM1107 490h1v7h-1zM1106 415H1109V490H1106zM1111 471h1v17h-1zM1111 496h1v14h-1zM1110 488H1113V496H1110zM1114 495h1v1h-1zM1114 508h1v7h-1zM1113 496H1116V508H1113zM1117 492h1v14h-1zM1116 506H1119V511H1116zM1121 509h1v1h-1zM1121 515h1v9h-1zM1120 510H1123V515H1120zM1127 518h1v5h-1zM1126 500H1129V518H1126zM1134 498h1v3h-1zM1134 508h1v3h-1zM1133 501H1136V508H1133zM1146 459H1149V483H1146zM1167 393h1v5h-1zM1167 415h1v1h-1zM1166 398H1169V415H1166zM1170 413h1v1h-1zM1170 421h1v7h-1zM1169 414H1172V421H1169zM1180 396h1v6h-1zM1180 408h1v6h-1zM1179 402H1182V408H1179zM1184 402h1v5h-1zM1184 414h1v9h-1zM1183 407H1186V414H1183zM1197 373h1v8h-1zM1196 360H1199V373H1196zM1200 370h1v2h-1zM1200 378h1v3h-1zM1199 372H1202V378H1199zM1207 370h1v3h-1zM1207 379h1v1h-1zM1206 373H1209V379H1206zM1210 380h1v11h-1zM1209 378H1212V380H1209zM1217 374h1v2h-1zM1216 370H1219V374H1216zM1223 360h1v2h-1zM1223 373h1v14h-1zM1222 362H1225V373H1222zM1227 371h1v1h-1zM1227 400h1v24h-1zM1226 372H1229V400H1226zM1233 394h1v8h-1zM1232 390H1235V394H1232zM1236 393H1239V442H1236zM1253 392h1v10h-1zM1253 416h1v2h-1zM1252 402H1255V416H1252zM1256 410h1v5h-1zM1256 441h1v6h-1zM1255 415H1258V441H1255zM1263 395h1v35h-1zM1263 432h1v16h-1zM1262 430H1265V432H1262zM1266 429h1v3h-1zM1266 464h1v4h-1zM1265 432H1268V464H1265zM1270 458h1v5h-1zM1270 467h1v22h-1zM1269 463H1272V467H1269zM1273 462h1v4h-1zM1273 477h1v9h-1zM1272 466H1275V477H1272zM1280 468h1v3h-1zM1280 472h1v7h-1zM1279 471H1282V472H1279zM1283 468h1v4h-1zM1283 486h1v1h-1zM1282 472H1285V486H1282zM1303 466h1v7h-1zM1303 479h1v26h-1zM1302 473H1305V479H1302zM1309 449h1v1h-1zM1309 471h1v3h-1zM1308 450H1311V471H1308zM1313 469h1v1h-1zM1313 489h1v3h-1zM1312 470H1315V489H1312zM1316 518h1v5h-1zM1315 488H1318V518H1315zM1323 487h1v26h-1zM1323 540h1v1h-1zM1322 513H1325V540H1322zM1342 447h1v29h-1zM1341 476H1344V494H1341zM1346 469h1v24h-1zM1346 512h1v2h-1zM1345 493H1348V512H1345zM1359 442h1v1h-1zM1358 443H1361V471H1358zM1365 463H1368V473H1365zM1372 464h1v3h-1zM1372 470h1v1h-1zM1371 467H1374V470H1371zM1376 468h1v1h-1zM1376 479h1v3h-1zM1375 469H1378V479H1375zM1382 454h1v24h-1zM1382 506h1v34h-1zM1381 478H1384V506H1381zM1389 474h1v12h-1zM1389 493h1v5h-1zM1388 486H1391V493H1388zM1395 488h1v2h-1zM1395 503h1v7h-1zM1394 490H1397V503H1394zM1399 477h1v25h-1zM1399 520h1v7h-1zM1398 502H1401V520H1398zM1402 496h1v24h-1zM1402 525h1v7h-1zM1401 520H1404V525H1401zM1405 510h1v14h-1zM1405 533h1v6h-1zM1404 524H1407V533H1404zM1415 501h1v4h-1zM1415 518h1v7h-1zM1414 505H1417V518H1414zM1419 505h1v12h-1zM1418 517H1421V560H1418zM1422 551h1v8h-1zM1422 586h1v6h-1zM1421 559H1424V586H1421zM1432 563h1v4h-1zM1432 588h1v3h-1zM1431 567H1434V588H1431zM1444 549H1447V558H1444zM1448 552h1v5h-1zM1448 558h1v16h-1zM1447 557H1450V558H1447zM1455 538h1v3h-1zM1455 545h1v7h-1zM1454 541H1457V545H1454zM1462 528h1v10h-1zM1462 560h1v7h-1zM1461 538H1464V560H1461zM1468 512h1v7h-1zM1468 522h1v6h-1zM1467 519H1470V522H1467zM1472 520h1v1h-1zM1472 531h1v2h-1zM1471 521H1474V531H1471zM1491 490h1v8h-1zM1490 474H1493V490H1490zM1501 462h1v6h-1zM1501 472h1v15h-1zM1500 468H1503V472H1500zM1505 464h1v7h-1zM1505 478h1v14h-1zM1504 471H1507V478H1504zM1515 450h1v5h-1zM1514 455H1517V478H1514zM1518 476h1v1h-1zM1518 489h1v5h-1zM1517 477H1520V489H1517zM1521 492h1v13h-1zM1520 488H1523V492H1520zM1525 488h1v3h-1zM1525 504h1v1h-1zM1524 491H1527V504H1524zM1541 452h1v10h-1zM1541 487h1v17h-1zM1540 462H1543V487H1540zM1544 474h1v12h-1zM1544 490h1v12h-1zM1543 486H1546V490H1543zM1548 483h1v6h-1zM1548 493h1v15h-1zM1547 489H1550V493H1547zM1551 482h1v10h-1zM1551 495h1v1h-1zM1550 492H1553V495H1550zM1554 489h1v5h-1zM1553 494H1556V518H1553zM1558 512h1v5h-1zM1558 529h1v15h-1zM1557 517H1560V529H1557zM1561 516h1v12h-1zM1561 529h1v12h-1zM1560 528H1563V529H1560zM1571 488h1v20h-1zM1571 513h1v2h-1zM1570 508H1573V513H1570zM1574 508h1v4h-1zM1574 513h1v18h-1zM1573 512H1576V513H1573zM1577 499h1v13h-1zM1577 513h1v12h-1zM1576 512H1579V513H1576zM1581 497h1v16h-1zM1581 515h1v12h-1zM1580 513H1583V515H1580zM1601 486h1v1h-1zM1601 497h1v3h-1zM1600 487H1603V497H1600zM1607 485h1v2h-1zM1607 495h1v7h-1zM1606 487H1609V495H1606zM1614 491h1v2h-1zM1613 493H1616V497H1613zM1621 467h1v8h-1zM1620 475H1623V494H1620zM1630 477h1v3h-1zM1630 489h1v2h-1zM1629 480H1632V489H1629zM1634 495h1v15h-1zM1633 488H1636V495H1633zM1637 469h1v25h-1zM1637 499h1v7h-1zM1636 494H1639V499H1636zM1640 497h1v1h-1zM1640 543h1v4h-1zM1639 498H1642V543H1639zM1647 535h1v4h-1zM1646 539H1649V564H1646zM1654 549h1v13h-1zM1653 562H1656V571H1653zM1657 560h1v10h-1zM1657 580h1v3h-1zM1656 570H1659V580H1656zM1664 538h1v16h-1zM1664 563h1v7h-1zM1663 554H1666V563H1663zM1670 576h1v1h-1zM1669 558H1672V576H1669zM1673 563h1v12h-1zM1673 576h1v2h-1zM1672 575H1675V576H1672zM1677 573h1v2h-1zM1677 582h1v7h-1zM1676 575H1679V582H1676zM1680 580h1v1h-1zM1679 581H1682V590H1679zM1697 574h1v1h-1zM1697 582h1v6h-1zM1696 575H1699V582H1696zM1700 572h1v9h-1zM1700 582h1v21h-1zM1699 581H1702V582H1699zM1703 614h1v26h-1zM1702 582H1705V614H1702zM1710 598h1v5h-1zM1709 603H1712V616H1709zM1713 603h1v12h-1zM1713 616h1v4h-1zM1712 615H1715V616H1712zM1717 607h1v9h-1zM1717 647h1v7h-1zM1716 616H1719V647H1716zM1720 676h1v7h-1zM1719 645H1722V676H1719zM1726 644h1v10h-1zM1726 668h1v1h-1zM1725 654H1728V668H1725zM1730 696h1v1h-1zM1729 667H1732V696H1729zM1736 641h1v19h-1zM1736 672h1v3h-1zM1735 660H1738V672H1735zM1740 663h1v8h-1zM1739 671H1742V727H1739zM1743 723h1v3h-1zM1743 752h1v12h-1zM1742 726H1745V752H1742zM1750 740h1v5h-1zM1750 752h1v16h-1zM1749 745H1752V752H1749zM1756 731h1v10h-1zM1755 741H1758V756H1755z" fill="#ef5350" shape-rendering="crispEdges"/>
<path d="M1765.5 28V852M11 825.5H1824" stroke="#2a2e39" stroke-width="1"/>
<path d="M786 138H935" stroke="#9598a1" stroke-width="2" stroke-dasharray="6 5"/>
<path d="M869 271.5H941" stroke="#c8cad0" stroke-width="1.5" stroke-dasharray="5 6"/>
<text x="845.0" y="132.0" font-size="11.6" fill="#d1d4dc" stroke="#d1d4dc" stroke-width="0.3" textLength="33.8" lengthAdjust="spacingAndGlyphs" font-style="italic">sweep</text>
<text x="888.3" y="284.8" font-size="11.6" fill="#d1d4dc" stroke="#d1d4dc" stroke-width="0.3" textLength="33.3" lengthAdjust="spacingAndGlyphs" font-style="italic">sweep</text>
<text x="10.0" y="19.0" font-size="12.4" fill="#d1d4dc" stroke="#d1d4dc" stroke-width="0.3" textLength="354.2" lengthAdjust="spacingAndGlyphs">FXDSniper published on TradingView.com, Jan 30, 2024 11:02 UTC</text>
<text x="18.1" y="46.0" font-size="12.4" fill="#d1d4dc" stroke="#d1d4dc" stroke-width="0.3" textLength="100.3" lengthAdjust="spacingAndGlyphs">AUDUSD, 1h, FXCM</text>
<text x="126.1" y="46.0" font-size="12.4" fill="#d1d4dc" stroke="#d1d4dc" stroke-width="0.3" textLength="7.2" lengthAdjust="spacingAndGlyphs">O</text>
<text x="134.4" y="46.0" font-size="12.4" fill="#26a69a" stroke="#26a69a" stroke-width="0.3" textLength="41.6" lengthAdjust="spacingAndGlyphs">0.68852</text>
<text x="183.9" y="46.0" font-size="12.4" fill="#d1d4dc" stroke="#d1d4dc" stroke-width="0.3" textLength="7.1" lengthAdjust="spacingAndGlyphs">H</text>
<text x="191.7" y="46.0" font-size="12.4" fill="#26a69a" stroke="#26a69a" stroke-width="0.3" textLength="40.7" lengthAdjust="spacingAndGlyphs">0.68911</text>
<text x="241.0" y="46.0" font-size="12.4" fill="#d1d4dc" stroke="#d1d4dc" stroke-width="0.3" textLength="6.0" lengthAdjust="spacingAndGlyphs">L</text>
<text x="247.4" y="46.0" font-size="12.4" fill="#26a69a" stroke="#26a69a" stroke-width="0.3" textLength="40.9" lengthAdjust="spacingAndGlyphs">0.68852</text>
<text x="295.8" y="46.0" font-size="12.4" fill="#d1d4dc" stroke="#d1d4dc" stroke-width="0.3" textLength="7.4" lengthAdjust="spacingAndGlyphs">C</text>
<text x="303.8" y="46.0" font-size="12.4" fill="#26a69a" stroke="#26a69a" stroke-width="0.3" textLength="41.2" lengthAdjust="spacingAndGlyphs">0.68886</text>
<text x="353.0" y="46.0" font-size="12.4" fill="#26a69a" stroke="#26a69a" stroke-width="0.3" textLength="97.0" lengthAdjust="spacingAndGlyphs">+0.00034 (+0.05%)</text>
<text x="1772.9" y="107.1" font-size="12.6" fill="#d1d4dc" stroke="#d1d4dc" stroke-width="0.3" textLength="42.2" lengthAdjust="spacingAndGlyphs">0.68200</text>
<text x="1772.9" y="152.9" font-size="12.6" fill="#d1d4dc" stroke="#d1d4dc" stroke-width="0.3" textLength="42.2" lengthAdjust="spacingAndGlyphs">0.68000</text>
<text x="1772.9" y="198.8" font-size="12.6" fill="#d1d4dc" stroke="#d1d4dc" stroke-width="0.3" textLength="42.2" lengthAdjust="spacingAndGlyphs">0.67800</text>
<text x="1772.9" y="244.6" font-size="12.6" fill="#d1d4dc" stroke="#d1d4dc" stroke-width="0.3" textLength="42.2" lengthAdjust="spacingAndGlyphs">0.67600</text>
<text x="1772.9" y="290.4" font-size="12.6" fill="#d1d4dc" stroke="#d1d4dc" stroke-width="0.3" textLength="42.2" lengthAdjust="spacingAndGlyphs">0.67400</text>
<text x="1772.9" y="336.3" font-size="12.6" fill="#d1d4dc" stroke="#d1d4dc" stroke-width="0.3" textLength="42.2" lengthAdjust="spacingAndGlyphs">0.67200</text>
<text x="1772.9" y="382.1" font-size="12.6" fill="#d1d4dc" stroke="#d1d4dc" stroke-width="0.3" textLength="42.2" lengthAdjust="spacingAndGlyphs">0.67000</text>
<text x="1772.9" y="427.9" font-size="12.6" fill="#d1d4dc" stroke="#d1d4dc" stroke-width="0.3" textLength="42.2" lengthAdjust="spacingAndGlyphs">0.66800</text>
<text x="1772.9" y="473.8" font-size="12.6" fill="#d1d4dc" stroke="#d1d4dc" stroke-width="0.3" textLength="42.2" lengthAdjust="spacingAndGlyphs">0.66600</text>
<text x="1772.9" y="519.6" font-size="12.6" fill="#d1d4dc" stroke="#d1d4dc" stroke-width="0.3" textLength="42.2" lengthAdjust="spacingAndGlyphs">0.66400</text>
<text x="1772.9" y="565.4" font-size="12.6" fill="#d1d4dc" stroke="#d1d4dc" stroke-width="0.3" textLength="42.2" lengthAdjust="spacingAndGlyphs">0.66200</text>
<text x="1772.9" y="611.3" font-size="12.6" fill="#d1d4dc" stroke="#d1d4dc" stroke-width="0.3" textLength="42.2" lengthAdjust="spacingAndGlyphs">0.66000</text>
<text x="1772.9" y="657.1" font-size="12.6" fill="#d1d4dc" stroke="#d1d4dc" stroke-width="0.3" textLength="42.2" lengthAdjust="spacingAndGlyphs">0.65800</text>
<text x="1772.9" y="702.9" font-size="12.6" fill="#d1d4dc" stroke="#d1d4dc" stroke-width="0.3" textLength="42.2" lengthAdjust="spacingAndGlyphs">0.65600</text>
<text x="1772.9" y="748.8" font-size="12.6" fill="#d1d4dc" stroke="#d1d4dc" stroke-width="0.3" textLength="42.2" lengthAdjust="spacingAndGlyphs">0.65400</text>
<text x="1772.9" y="794.6" font-size="12.6" fill="#d1d4dc" stroke="#d1d4dc" stroke-width="0.3" textLength="42.2" lengthAdjust="spacingAndGlyphs">0.65200</text>
<rect x="1765.7" y="728.6" width="54.8" height="15.6" rx="2" fill="#131722" stroke="#8a8d96" stroke-width="1"/>
<text x="1773.0" y="741.0" font-size="12.6" fill="#8a8d96" stroke="#8a8d96" stroke-width="0.3" textLength="41.7" lengthAdjust="spacingAndGlyphs">0.65435</text>
<rect x="1769.5" y="31.5" width="51.3" height="25.5" rx="4" fill="#131722" stroke="#2e323e" stroke-width="1.5"/>
<text x="1778.0" y="49.0" font-size="12.4" fill="#d1d4dc" stroke="#d1d4dc" stroke-width="0.3" textLength="21.0" lengthAdjust="spacingAndGlyphs">USD</text>
<text x="18.9" y="843.0" font-size="12.6" fill="#d1d4dc" stroke="#d1d4dc" stroke-width="0.3" textLength="12.3" lengthAdjust="spacingAndGlyphs">25</text>
<text x="177.5" y="843.0" font-size="12.6" fill="#d1d4dc" stroke="#d1d4dc" stroke-width="0.3" textLength="12.3" lengthAdjust="spacingAndGlyphs">27</text>
<text x="331.8" y="843.0" font-size="12.6" fill="#d1d4dc" stroke="#d1d4dc" stroke-width="0.3" textLength="20.9" lengthAdjust="spacingAndGlyphs" font-weight="bold">May</text>
<text x="498.6" y="843.0" font-size="12.6" fill="#d1d4dc" stroke="#d1d4dc" stroke-width="0.3" textLength="6.0" lengthAdjust="spacingAndGlyphs">3</text>
<text x="606.6" y="843.0" font-size="12.6" fill="#d1d4dc" stroke="#d1d4dc" stroke-width="0.3" textLength="28.8" lengthAdjust="spacingAndGlyphs">12:00</text>
<text x="736.5" y="843.0" font-size="12.6" fill="#d1d4dc" stroke="#d1d4dc" stroke-width="0.3" textLength="6.0" lengthAdjust="spacingAndGlyphs">8</text>
<text x="892.9" y="843.0" font-size="12.6" fill="#d1d4dc" stroke="#d1d4dc" stroke-width="0.3" textLength="12.3" lengthAdjust="spacingAndGlyphs">10</text>
<text x="1003.7" y="843.0" font-size="12.6" fill="#d1d4dc" stroke="#d1d4dc" stroke-width="0.3" textLength="28.8" lengthAdjust="spacingAndGlyphs">12:00</text>
<text x="1131.3" y="843.0" font-size="12.6" fill="#d1d4dc" stroke="#d1d4dc" stroke-width="0.3" textLength="12.3" lengthAdjust="spacingAndGlyphs">15</text>
<text x="1289.8" y="843.0" font-size="12.6" fill="#d1d4dc" stroke="#d1d4dc" stroke-width="0.3" textLength="12.3" lengthAdjust="spacingAndGlyphs">17</text>
<text x="1401.3" y="843.0" font-size="12.6" fill="#d1d4dc" stroke="#d1d4dc" stroke-width="0.3" textLength="28.8" lengthAdjust="spacingAndGlyphs">12:00</text>
<text x="1528.3" y="843.0" font-size="12.6" fill="#d1d4dc" stroke="#d1d4dc" stroke-width="0.3" textLength="12.3" lengthAdjust="spacingAndGlyphs">22</text>
<text x="1687.1" y="843.0" font-size="12.6" fill="#d1d4dc" stroke="#d1d4dc" stroke-width="0.3" textLength="12.3" lengthAdjust="spacingAndGlyphs">24</text>
<path d="M9.9 865H17.9V875H13.6V869H9.9Z" fill="#d1d4dc"/><circle cx="20.9" cy="867" r="1.8" fill="#d1d4dc"/><path d="M24.7 865H29.6L26.2 875H21.3Z" fill="#d1d4dc"/>
<text x="33.0" y="875.0" font-size="12.8" fill="#d1d4dc" stroke="#d1d4dc" stroke-width="0.55" textLength="70.4" lengthAdjust="spacingAndGlyphs">TradingView</text>
</svg>
</body></html>
